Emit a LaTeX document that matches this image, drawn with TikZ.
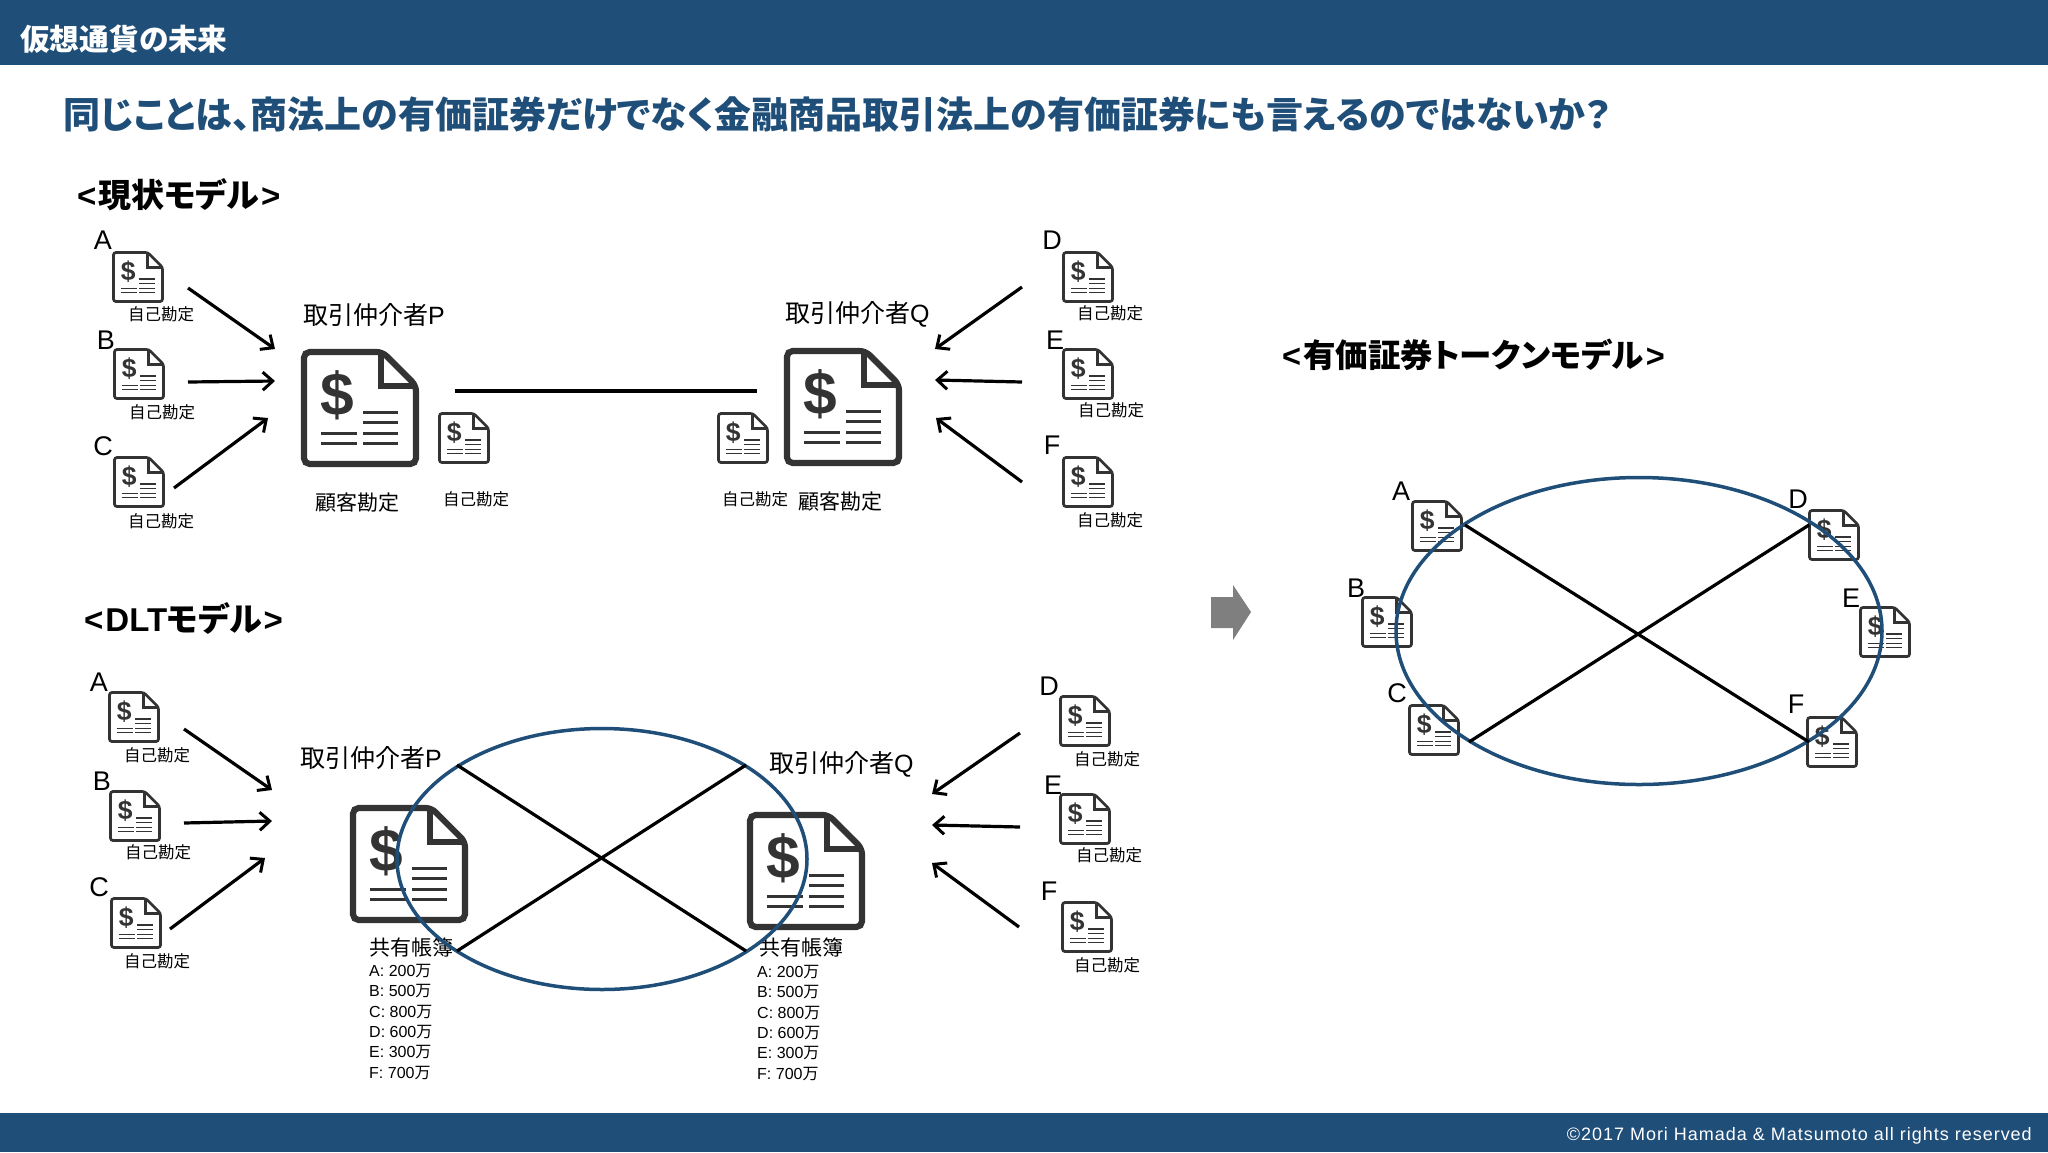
\documentclass[tikz,border=0pt]{standalone}
\usepackage{fontspec}
\usepackage{tikz}
\usetikzlibrary{arrows.meta,shapes.geometric}

\setmainfont{Noto Sans CJK JP}
\newfontfamily\arial{Liberation Sans}
\newfontfamily\tight[RawFeature=+palt]{Noto Sans CJK JP}
\newfontfamily\rightsfont[LetterSpace=5.5]{Liberation Sans}

\definecolor{bandblue}{HTML}{1F4E79}
\definecolor{docdark}{HTML}{333333}
\definecolor{arrowgray}{HTML}{7F7F7F}

\tikzset{
    pics/docicon/.style={code={
        \begin{scope}[scale=#1,line width=#1*5.5pt,draw=docdark]
            \draw[fill=white,rounded corners=#1*5pt] (-50,-50) -- (20,-50) -- (50,-20) -- (50,50) -- (-50,50) -- cycle;
            \draw (19,-48) -- (19,-20) -- (48,-20);
            \node[transform shape,inner sep=0pt,text=docdark,font=\arial\bfseries\fontsize{54pt}{54pt}\selectfont] (dollar) at (-20,-11) {\$};
            \draw[line width=#1*2.8pt] (3,4) -- (34,4) (3,13) -- (34,13) (3,23) -- (34,23) (3,32) -- (34,32);
            \draw[line width=#1*2.8pt] (-35,23) -- (-3,23) (-35,32) -- (-3,32);
        \end{scope}
    }}
}

\begin{document}
\begin{tikzpicture}[x=1pt,y=-1pt,inner sep=0pt,
        letter/.style={font=\arial\fontsize{27pt}{30pt}\selectfont},
        selflabel/.style={font=\fontsize{16.5pt}{20pt}\selectfont},
        broker/.style={font=\fontsize{25pt}{30pt}\selectfont},
        account/.style={font=\fontsize{21pt}{25pt}\selectfont},
        heading/.style={anchor=west,font=\tight\bfseries\fontsize{33pt}{38pt}\selectfont},
        ledgerline/.style={anchor=west,font=\fontsize{16pt}{20pt}\selectfont},
        flow/.style={line width=3.2pt,-{Straight Barb[length=10pt,width=18pt,line width=3pt]}},
        cross/.style={line width=3.2pt},
        ring/.style={draw=bandblue,line width=3.5pt}]
    \useasboundingbox (0,0) rectangle (2048,1152);

    % bands and headings
    \fill[bandblue] (0,0) rectangle (2048,65);
    \fill[bandblue] (0,1113) rectangle (2048,1152);
    \node[heading,text=white,font=\tight\bfseries\fontsize{29.7pt}{34pt}\selectfont] (title) at (20,39) {仮想通貨の未来};
    \node[heading,text=bandblue,font=\tight\bfseries\fontsize{37pt}{42pt}\selectfont] (question) at (63,114) {同じことは、商法上の有価証券だけでなく金融商品取引法上の有価証券にも言えるのではないか？};
    \node[heading] (curhead) at (77,195) {{\arial <}\hspace{2pt}現状モデル\hspace{2pt}{\arial >}};
    \node[heading] (dlthead) at (84,618) {{\arial <\hspace{2pt}DLT}モデル\hspace{2pt}{\arial >}};
    \node[heading,font=\tight\bfseries\fontsize{32.5pt}{38pt}\selectfont] (tokhead) at (1282,355) {{\arial <}\hspace{2pt}有価証券トークンモデル\hspace{2pt}{\arial >}};
    \node[anchor=east,text=white,font=\rightsfont\fontsize{18pt}{20pt}\selectfont] (rights) at (2032,1136) {©2017 Mori Hamada \& Matsumoto all rights reserved};

    % current model
    \foreach \nm/\px/\py/\lx/\ly/\sx/\sy in {A/138/277/103/240/161/314,B/139/374/106/340/162/412,C/139/482/103/446/161/521,
            D/1088/277/1052/240/1110/313,E/1088/374/1055/340/1111/410,F/1088/482/1052/445/1110/520}{
        \pic (curdoc\nm) at (\px,\py) {docicon=0.49};
        \node[letter] (curlet\nm) at (\lx,\ly) {\nm};
        \node[selflabel] (curself\nm) at (\sx,\sy) {自己勘定};
    }
    \pic (curbigP) at (360,408) {docicon=1.12};
    \pic (curbigQ) at (843,407) {docicon=1.12};
    \pic (curownP) at (464,438) {docicon=0.49};
    \pic (curownQ) at (743,438) {docicon=0.49};
    \node[broker,anchor=west] (curbrokerP) at (303,315) {取引仲介者{\arial P}};
    \node[broker,anchor=west] (curbrokerQ) at (785,314) {取引仲介者{\arial Q}};
    \node[account] (curacctP) at (357,503) {顧客勘定};
    \node[account] (curacctQ) at (840,502) {顧客勘定};
    \node[selflabel] (curselfP) at (476,499) {自己勘定};
    \node[selflabel] (curselfQ) at (755,499) {自己勘定};

    % DLT model
    \foreach \nm/\px/\py/\lx/\ly/\sx/\sy in {A/134/717/99/682/157/755,B/135/816/102/781/158/852,C/136/923/99/887/157/961,
            D/1085/721/1049/686/1107/759,E/1085/819/1053/785/1109/855,F/1087/927/1049/891/1107/965}{
        \pic (dltdoc\nm) at (\px,\py) {docicon=0.49};
        \node[letter] (dltlet\nm) at (\lx,\ly) {\nm};
        \node[selflabel] (dltself\nm) at (\sx,\sy) {自己勘定};
    }
    \pic (dltbigP) at (409,864) {docicon=1.12};
    \pic (dltbigQ) at (806,871) {docicon=1.12};
    \node[broker,anchor=west] (dltbrokerP) at (300,758) {取引仲介者{\arial P}};
    \node[broker,anchor=west] (dltbrokerQ) at (769,764) {取引仲介者{\arial Q}};
    \node[account] (dltbookP) at (411,948) {共有帳簿};
    \node[account] (dltbookQ) at (801,948) {共有帳簿};
    \foreach \nm/\amt/\ly in {A/200/971,B/500/991,C/800/1012,D/600/1032,E/300/1052,F/700/1073}{
        \node[ledgerline] (bookP\nm) at (369,\ly) {{\arial \nm: \amt}万};
        \node[ledgerline] (bookQ\nm) at (757,\ly+1) {{\arial \nm: \amt}万};
    }

    % token model
    \foreach \nm/\px/\py/\lx/\ly in {A/1437/526/1401/491,B/1387/622/1356/588,C/1434/730/1397/693,
            D/1834/535/1798/499,E/1885/632/1851/598,F/1832/742/1796/704}{
        \pic (tokdoc\nm) at (\px,\py) {docicon=0.49};
        \node[letter] (toklet\nm) at (\lx,\ly) {\nm};
    }

    % arrows into the brokers
    \foreach \nm/\ax/\ay/\bx/\by in {curA/188/288/275/349,curB/188/382/275/381,curC/174/488/268/418,
            curD/1022/287/935/349,curE/1022/382/935/380,curF/1022/482/936/418,
            dltA/184/729/272/790,dltB/184/823/272/821,dltC/170/929/265/858,
            dltD/1020/733/932/794,dltE/1020/827/932/825,dltF/1019/927/932/863}{
        \coordinate (\nm from) at (\ax,\ay);
        \coordinate (\nm to) at (\bx,\by);
        \draw[flow] (\nm from) -- (\nm to);
    }
    \coordinate (linkP) at (455,391);
    \coordinate (linkQ) at (757,391);
    \draw[cross] (linkP) -- (linkQ);

    % shared ledgers
    \node[ring,ellipse,minimum width=410pt,minimum height=261pt] (dltring) at (602,859) {};
    \node[ring,ellipse,minimum width=486pt,minimum height=307pt] (tokring) at (1639,631) {};
    \foreach \nm/\ax/\ay/\bx/\by in {dltone/457/765/746/951,dlttwo/457/951/746/765,
            tokone/1465/525/1809/742,toktwo/1469/742/1809/525}{
        \coordinate (\nm from) at (\ax,\ay);
        \coordinate (\nm to) at (\bx,\by);
        \draw[cross] (\nm from) -- (\nm to);
    }

    \fill[arrowgray] (1211,597) -- (1233,597) -- (1233,585) -- (1251,612) -- (1233,640) -- (1233,628) -- (1211,628) -- cycle;
\end{tikzpicture}
\end{document}
